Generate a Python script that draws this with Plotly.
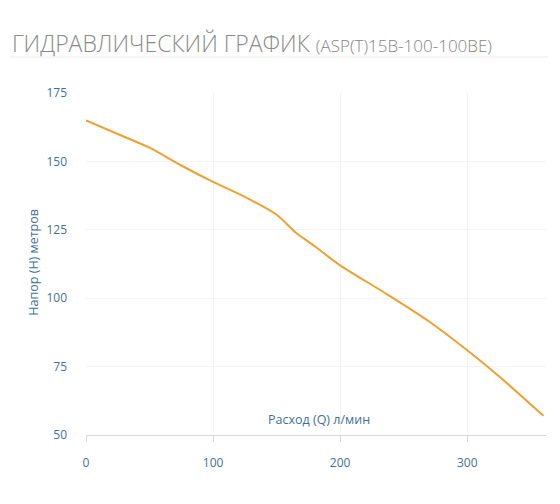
import plotly.graph_objects as go

flow_q = [0, 25, 50, 75, 100, 125, 150, 165, 180, 200, 235, 270, 300, 325, 360]
head_h = [165, 160, 155, 148.5, 142.5, 137, 130.5, 124, 119, 112, 102, 91.5, 81, 71.5, 57]
x_ticks = [0, 100, 200, 300]
y_ticks = [50, 75, 100, 125, 150, 175]

label_color = "#3f7196"
font_family = "Open Sans, Noto Sans, sans-serif"

fig = go.Figure()
fig.add_trace(go.Scatter(
    x=flow_q, y=head_h, mode="lines",
    line=dict(color="#f0a030", width=2, shape="spline", smoothing=0.8),
    hoverinfo="x+y", showlegend=False,
))

fig.update_layout(
    width=552, height=496,
    paper_bgcolor="white", plot_bgcolor="white",
    margin=dict(l=78, r=14, t=85, b=69),
    font=dict(family=font_family, color=label_color, size=12),
    xaxis=dict(
        range=[0, 362], tickvals=x_ticks, showgrid=True, gridcolor="#f4f4f4",
        zeroline=False, showline=True, linecolor="#d8d8d8", linewidth=1,
        ticks="outside", ticklen=6, tickcolor="#d8d8d8",
        tickfont=dict(color=label_color, size=12), ticklabelstandoff=11,
    ),
    yaxis=dict(
        range=[50, 175], tickvals=y_ticks, showgrid=True, gridcolor="#f4f4f4",
        zeroline=False, showline=False, ticks="", ticklabelstandoff=18,
        tickfont=dict(color=label_color, size=12),
    ),
    annotations=[
        dict(text="ГИДРАВЛИЧЕСКИЙ ГРАФИК <span style='font-size:17px;fill:#858585'>(ASP(T)15B-100-100BE)</span>",
             xref="paper", yref="paper", x=-0.165, y=1.0, xanchor="left", yanchor="bottom",
             yshift=32, showarrow=False,
             font=dict(size=23, color="#8a8a8a", family=font_family, weight=300)),
        dict(text="Расход (Q) л/мин", xref="x", yref="paper", x=183, y=0, yshift=5,
             xanchor="center", yanchor="bottom", showarrow=False,
             font=dict(size=12.5, color=label_color)),
        dict(text="Напор (H) метров", xref="paper", yref="y", x=0, xshift=-52, y=113,
             textangle=-90, xanchor="center", yanchor="middle", showarrow=False,
             font=dict(size=12.5, color=label_color)),
    ],
    shapes=[
        dict(type="line", xref="paper", yref="paper", x0=-0.165, x1=1.004,
             ysizemode="pixel", yanchor=1, y0=36, y1=36,
             line=dict(color="#ececec", width=1)),
    ],
)

fig.write_html("out.html")
